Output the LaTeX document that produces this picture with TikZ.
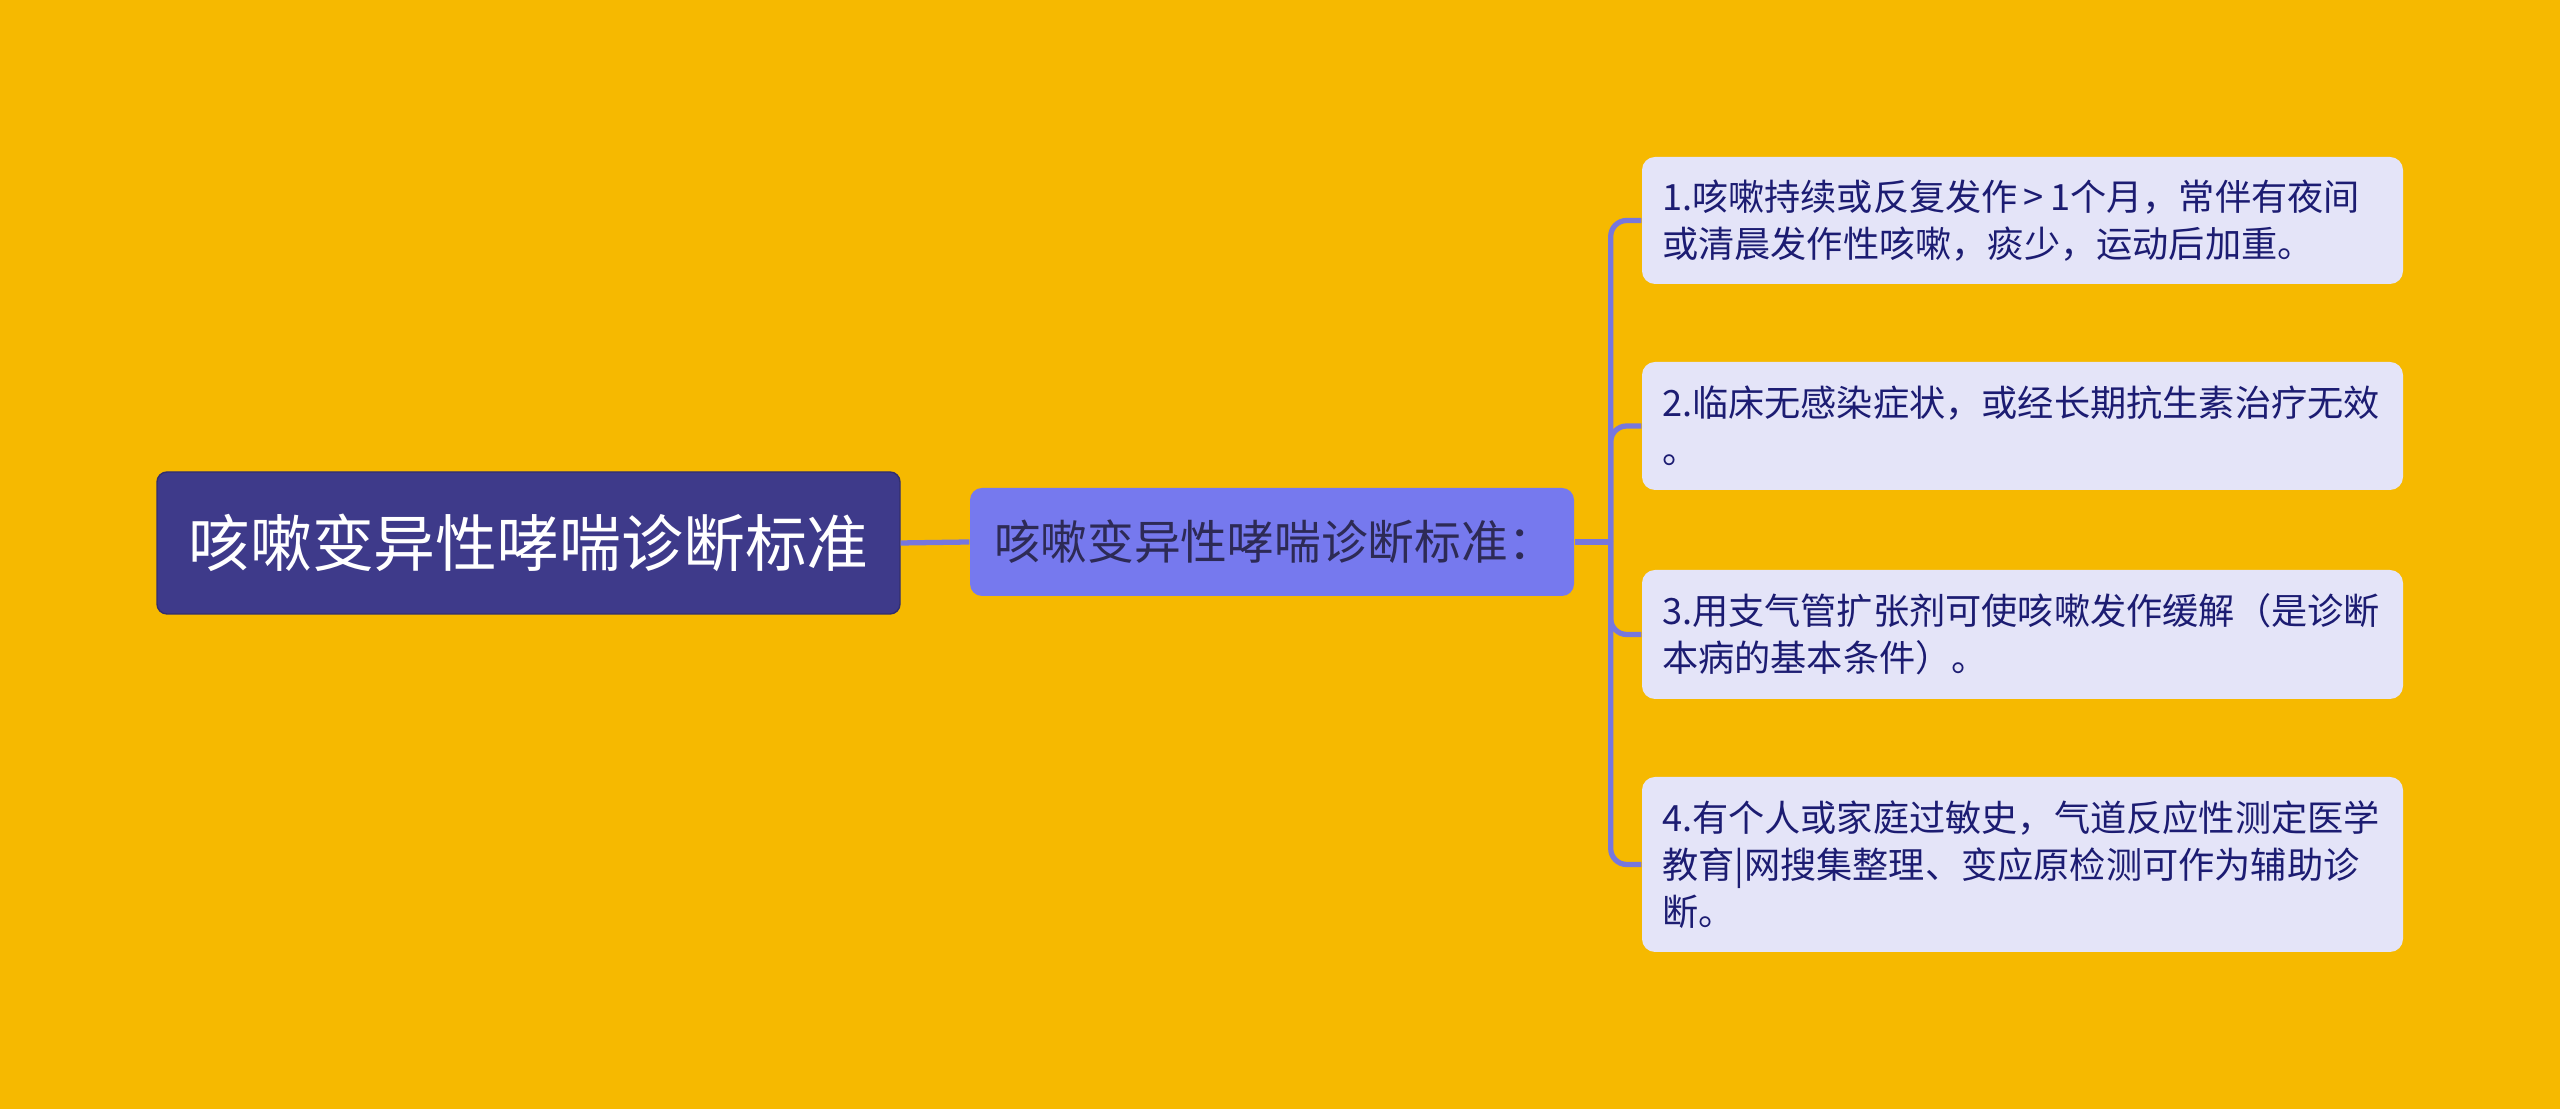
\documentclass[tikz,border=0pt]{standalone}
\usepackage{fontspec}
\newfontfamily\cjk{Noto Sans CJK SC}
\usepackage{tikz}
\usepackage[rgb]{xcolor}

\definecolor{bgyellow}{HTML}{F6B900}
\definecolor{rootblue}{HTML}{3E3A8A}
\definecolor{midblue}{HTML}{7679EE}
\definecolor{leaffill}{HTML}{E4E4F8}
\definecolor{linkblue}{HTML}{7777DD}
\definecolor{leaftext}{HTML}{1C1C72}
\definecolor{midtext}{HTML}{2D2A55}

\tikzset{
	rootbox/.style={fill=rootblue,draw=rootblue!80!black,rounded corners=0.1cm,text=white,
		minimum width=7.43cm,minimum height=1.42cm,inner sep=0pt,
		font=\cjk\fontsize{17.6pt}{21pt}\selectfont},
	midbox/.style={fill=midblue,rounded corners=0.12cm,text=midtext,
		minimum width=6.04cm,minimum height=1.08cm,inner xsep=0.24cm,inner ysep=0pt,
		text width=5.56cm,align=left,
		font=\cjk\fontsize{13.3pt}{16pt}\selectfont},
	leafbox/.style={fill=leaffill,rounded corners=0.13cm,text=leaftext,
		minimum width=7.61cm,inner xsep=0.2cm,inner ysep=0pt,
		text width=7.21cm,align=left,
		font=\cjk\fontsize{10.3pt}{13.3pt}\selectfont},
	link/.style={draw=linkblue,line width=1.5pt,rounded corners=0.16cm}
}

\begin{document}
\begin{tikzpicture}
	\fill[bgyellow] (0,0) rectangle (25.6,11.09);
	\useasboundingbox (0,0) rectangle (25.6,11.09);
	% root and first level
	\node[rootbox] (root) at (5.285,5.66) {咳嗽变异性哮喘诊断标准};
	\node[midbox] (crit) at (12.72,5.67) {咳嗽变异性哮喘诊断标准：};
	% criteria
	\node[leafbox,minimum height=1.27cm] (c1) at (20.225,8.885) {1.咳嗽持续或反复发作\,>\,1个月，常伴有夜间\\或清晨发作性咳嗽，痰少，运动后加重。};
	\node[leafbox,minimum height=1.28cm] (c2) at (20.225,6.83) {2.临床无感染症状，或经长期抗生素治疗无效\\。};
	\node[leafbox,minimum height=1.29cm] (c3) at (20.225,4.745) {3.用支气管扩张剂可使咳嗽发作缓解（是诊断\\本病的基本条件）。};
	\node[leafbox,minimum height=1.75cm] (c4) at (20.225,2.445) {4.有个人或家庭过敏史，气道反应性测定医学\\教育|网搜集整理、变应原检测可作为辅助诊\\断。};
	% connectors
	\draw[link] (root.east) -- (crit.west);
	\coordinate (fork) at ([xshift=0.36cm]crit.east);
	\draw[link] (crit.east) -- (fork);
	\foreach \c in {c1,c2,c3,c4}
		\draw[link] (fork) |- (\c.west);
\end{tikzpicture}
\end{document}
